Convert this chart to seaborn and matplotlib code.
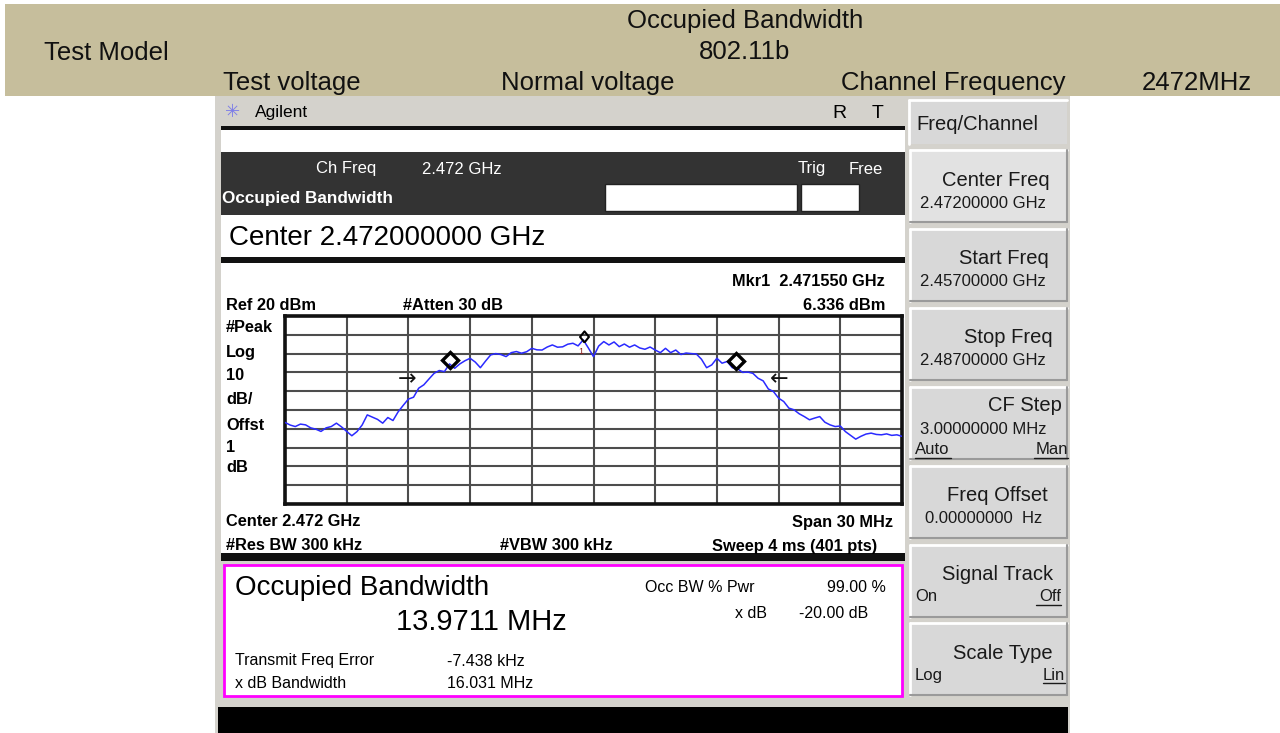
import numpy as np
import matplotlib
matplotlib.use("Agg")
import matplotlib.pyplot as plt
from matplotlib.patches import Rectangle
import seaborn as sns

# ---- data read from the screen ----
# trace level (dBm) every 0.25 MHz from -15 MHz to +15 MHz around 2.472 GHz
level_dbm = [
    -36.6, -38.0, -38.8, -37.5, -37.9, -39.5, -40.2, -41.4, -39.5, -38.8,
    -37.0, -39.0, -41.4, -43.7, -41.5, -38.0, -32.6, -33.8, -35.0, -37.0,
    -34.0, -35.6, -31.0, -27.5, -24.2, -23.2, -18.4, -16.6, -13.5, -10.5,
    -9.0, -9.6, -5.5, -7.8, -5.5, -3.8, -2.5, -4.5, -7.5, -4.0,
    -0.7, 0.0, -0.5, -1.6, 0.5, 1.1, 0.2, 1.0, 2.8, 2.0,
    1.9, 3.5, 4.6, 3.4, 3.6, 5.0, 5.5, 4.1, 7.3, 3.0,
    -1.6, 4.0, 6.4, 4.6, 6.2, 3.7, 5.1, 3.4, 4.6, 3.0,
    2.3, 3.5, 1.9, 0.5, 2.8, 0.5, 1.9, -0.5, 0.3, 0.0,
    -0.2, -3.0, -7.5, -6.0, -2.5, -5.1, -4.2, -7.5, -8.0, -10.0,
    -9.8, -10.5, -13.1, -14.5, -18.8, -20.2, -23.7, -25.5, -29.0, -29.9,
    -32.0, -33.5, -35.2, -34.3, -33.5, -36.5, -37.9, -38.8, -38.5, -41.5,
    -43.5, -45.5, -44.0, -42.8, -42.3, -43.0, -43.2, -42.7, -43.5, -43.2,
    -44.0,
]
center_ghz = 2.472
span_mhz = 30
ref_dbm = 20
div_db = 10

mkr_f = [-0.45]          # Mkr1 2.471550 GHz
mkr_level = [6.336]
obw_f = [-6.97, 6.95]    # occupied bandwidth edges (bold diamonds)
obw_level = [-3.4, -4.2]
xdb_f = [-9.05, 9.05]    # x dB bandwidth arrows
xdb_level = [-13.8, -13.8]

header_rows = [
    ("Occupied Bandwidth", 745, 21),
    ("802.11b", 745, 52),
    ("Test Model", 106, 53),
    ("Test voltage", 292, 83),
    ("Normal voltage", 588, 83),
    ("Channel Frequency", 953, 83),
    ("2472MHz", 1197, 83),
]

# title, value, left option, right option
softkeys = [
    ("Center Freq", "2.47200000 GHz", None, None),
    ("Start Freq", "2.45700000 GHz", None, None),
    ("Stop Freq", "2.48700000 GHz", None, None),
    ("CF Step", "3.00000000 MHz", "Auto", "Man"),
    ("Freq Offset", "0.00000000  Hz", None, None),
    ("Signal Track", None, "On", "Off"),
    ("Scale Type", None, "Log", "Lin"),
]
key_title_x = [1050, 1049, 1053, 1062, 1048, 1053, 1053]
key_value_x = [920, 920, 920, 920, 925, 920, 920]
key_right_x = [0, 0, 0, 1068, 0, 1061, 1065]

freq_mhz = np.linspace(-span_mhz / 2, span_mhz / 2, len(level_dbm))

sns.set_theme(style="white")
plt.rcParams['font.family'] = ['Liberation Sans', 'DejaVu Sans']

fig = plt.figure(figsize=(12.8, 7.33), dpi=100)
bg = fig.add_axes([0, 0, 1, 1])
bg.set_xlim(0, 1280)
bg.set_ylim(733, 0)
bg.axis('off')


def box(x0, y0, x1, y1, fc, ec='none', lw=0, z=1):
    bg.add_patch(Rectangle((x0, y0), x1 - x0, y1 - y0, facecolor=fc,
                           edgecolor=ec, linewidth=lw, zorder=z))


def put(x, y, s, size, ha='left', weight='normal', color='black', **kw):
    return bg.text(x, y, s, fontsize=size, ha=ha, va='center',
                   fontweight=weight, color=color, zorder=5, **kw)


# header band
box(5, 4, 1280, 96, '#C6BE9C')
for s, x, y in header_rows:
    put(x, y, s, 18.5, ha='center', color='#111111')

# instrument screen
box(215, 96, 1070, 733, '#D4D2CC')
put(233, 112, "✳", 13, ha='center', color='#7C7CE8', family='DejaVu Sans')
put(255, 112, "Agilent", 12.5)
put(839, 113, "R", 14, ha='center')
put(878, 113, "T", 14, ha='center')

box(221, 126, 905, 130, '#111111')
box(221, 130, 905, 152, 'white')
box(221, 152, 905, 215, '#333333')
put(316, 169, "Ch Freq", 12, color='white')
put(422, 169, "2.472 GHz", 12, color='white')
put(798, 169, "Trig", 12, color='white')
put(849, 169, "Free", 12, color='white')
put(222, 199, "Occupied Bandwidth", 12.3, weight='bold', color='white')
box(605, 184, 797, 211, 'white', ec='#222222', lw=1, z=2)
box(801, 184, 859, 211, 'white', ec='#222222', lw=1, z=2)

box(221, 215, 905, 257, 'white')
put(229, 238, "Center 2.472000000 GHz", 20)
box(221, 257, 905, 263, '#111111')

box(221, 263, 905, 553, 'white')
put(885, 282, "Mkr1  2.471550 GHz", 11.8, ha='right', weight='bold')
put(226, 305, "Ref 20 dBm", 11.8, weight='bold')
put(403, 305, "#Atten 30 dB", 11.8, weight='bold')
put(885, 305, "6.336 dBm", 11.8, ha='right', weight='bold')
for s, y in zip(["#Peak", "Log", "10", "dB/", "Offst", "1", "dB"],
                [327, 352, 376, 400, 425, 447, 468]):
    put(226, y, s, 11.8, weight='bold')
put(226, 522, "Center 2.472 GHz", 11.8, weight='bold')
put(893, 522, "Span 30 MHz", 11.8, ha='right', weight='bold')
put(226, 546, "#Res BW 300 kHz", 11.8, weight='bold')
put(500, 546, "#VBW 300 kHz", 11.8, weight='bold')
put(877, 546, "Sweep 4 ms (401 pts)", 11.8, ha='right', weight='bold')
box(221, 553, 905, 561, '#111111')

# result box
box(224, 565, 902, 696, 'white', ec='#FF00FF', lw=2, z=2)
put(235, 588, "Occupied Bandwidth", 20)
put(396, 622, "13.9711 MHz", 21)
put(645, 588, "Occ BW % Pwr", 11.5)
put(886, 588, "99.00 %", 11.5, ha='right')
put(767, 613, "x dB", 11.5, ha='right')
put(799, 613, "-20.00 dB", 11.5)
put(235, 661, "Transmit Freq Error", 11.5)
put(447, 661, "-7.438 kHz", 11.5)
put(235, 684, "x dB Bandwidth", 11.5)
put(447, 684, "16.031 MHz", 11.5)
box(218, 707, 1068, 733, 'black')

# soft keys
box(909, 100, 1067, 144, '#D8D8D8', z=2)
bg.plot([909, 1067], [100, 100], color='white', lw=2, zorder=3)
bg.plot([909, 909], [100, 144], color='white', lw=2, zorder=3)
put(916, 124, "Freq/Channel", 14.5, color='#1a1a1a')
for i, (title, value, left, right) in enumerate(softkeys):
    y0 = 150 + i * 78.9
    y1 = y0 + 72
    fc = '#E2E2E2' if i == 0 else '#D8D8D8'
    box(910, y0, 1067, y1, fc, z=2)
    bg.plot([910, 1067], [y0, y0], color='white', lw=2, zorder=3)
    bg.plot([910, 910], [y0, y1], color='white', lw=2, zorder=3)
    bg.plot([910, 1067], [y1, y1], color='#9A9A9A', lw=1.5, zorder=3)
    bg.plot([1067, 1067], [y0, y1], color='#9A9A9A', lw=1.5, zorder=3)
    both = value is not None and left is not None
    put(key_title_x[i], y0 + (19 if both else 30), title, 14.5, ha='right',
        color='#1a1a1a')
    if value is not None:
        put(key_value_x[i], y0 + (43 if both else 53), value, 12,
            color='#1a1a1a')
    if left is not None:
        yy = y0 + (63 if both else 52)
        put(915, yy, left, 12, color='#1a1a1a')
        put(key_right_x[i], yy, right, 12, ha='right', color='#1a1a1a')
        if left == "Auto":
            bg.plot([915, 951], [yy + 8, yy + 8], color='#1a1a1a', lw=1,
                    zorder=5)
        w = {"Man": 34, "Off": 25, "Lin": 22}[right]
        bg.plot([key_right_x[i] - w, key_right_x[i]], [yy + 8, yy + 8],
                color='#1a1a1a', lw=1, zorder=5)

# trace plot
ax = fig.add_axes([285 / 1280, (733 - 504) / 733, 617 / 1280, 188 / 733])
ax.set_facecolor('white')
sns.lineplot(x=freq_mhz, y=level_dbm, ax=ax, color='#2A2AFF', lw=1.1,
             zorder=3)
ax.set_xlim(-span_mhz / 2, span_mhz / 2)
ax.set_ylim(ref_dbm - 10 * div_db, ref_dbm)
ax.set_xticks(np.arange(-span_mhz / 2, span_mhz / 2 + 0.1, span_mhz / 10))
ax.set_yticks(np.arange(ref_dbm - 10 * div_db, ref_dbm + 0.1, div_db))
ax.tick_params(length=0, labelbottom=False, labelleft=False)
ax.grid(True, color='#4D4D4D', lw=1.5)
ax.set_axisbelow(True)
for sp in ax.spines.values():
    sp.set_color('#111111')
    sp.set_linewidth(2.6)
ax.set_xlabel('')
ax.set_ylabel('')

peak_marker = [(0, 0), (-0.4, 0.5), (0, 1), (0.4, 0.5), (0, 0)]
ax.plot(mkr_f, mkr_level, marker=peak_marker, ms=16, mfc='none', mec='black',
        mew=1.5, ls='none', zorder=4)
ax.text(mkr_f[0] - 0.15, mkr_level[0] - 5, "1", fontsize=6.5,
        color='#8B2020', ha='center', va='center', zorder=4)
ax.plot(obw_f, obw_level, marker='D', ms=8.5, mfc='none', mec='black',
        mew=2.4, ls='none', zorder=4)
for f, lv, s in zip(xdb_f, xdb_level, ["→", "←"]):
    ax.text(f, lv, s, fontsize=16, ha='center', va='center', color='#111111',
            family='DejaVu Sans', zorder=4)

fig.savefig("out.png", dpi=100)
